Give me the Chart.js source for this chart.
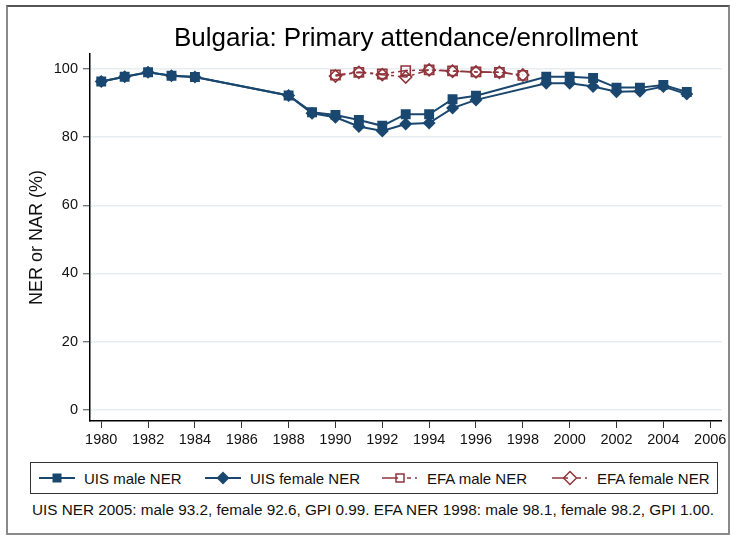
<!DOCTYPE html>
<html>
<head>
<meta charset="utf-8">
<script src="https://cdn.jsdelivr.net/npm/chart.js@4/dist/chart.umd.min.js"></script>
<style>
  body { margin: 0; background: #fff; font-family: "Liberation Sans", Arial, sans-serif; }
  #wrap { position: relative; width: 730px; height: 536px; overflow: hidden; }
  #frame { position: absolute; left: 6px; top: 5px; width: 720px; height: 526px;
           border: 2px solid #8a8a8a; border-top-color: #555; }
  #chartBox { position: absolute; left: 0; top: 0; width: 730px; height: 455px; }
  #legend { position: absolute; left: 30px; top: 462px; width: 686px; height: 30px;
            border: 1px solid #333; }
  .item { position: absolute; top: 0; height: 30px; display: flex; align-items: center;
          font-size: 15px; color: #111; white-space: nowrap; }
  .item svg { margin-right: 9px; }
  #note { position: absolute; left: 32px; top: 501px; font-size: 15.3px; color: #111; white-space: nowrap; }
</style>
</head>
<body>
<div id="wrap">
  <div id="frame"></div>
  <div id="chartBox"><canvas id="chart" width="730" height="455"></canvas></div>
  <div id="legend"></div>
  <div id="note">UIS NER 2005: male 93.2, female 92.6, GPI 0.99. EFA NER 1998: male 98.1, female 98.2, GPI 1.00.</div>
</div>
<script>
// data
const uisYears = [1980, 1981, 1982, 1983, 1984, 1988, 1989, 1990, 1991, 1992, 1993, 1994, 1995, 1996, 1999, 2000, 2001, 2002, 2003, 2004, 2005];
const uisMale = [96.3, 97.7, 99.0, 98.0, 97.6, 92.2, 87.3, 86.5, 85.0, 83.3, 86.7, 86.7, 91.1, 92.1, 97.7, 97.7, 97.3, 94.5, 94.5, 95.3, 93.2];
const uisFemale = [96.3, 97.7, 99.0, 98.0, 97.6, 92.2, 87.0, 85.8, 83.1, 81.8, 83.8, 84.1, 88.5, 90.9, 95.8, 95.8, 94.8, 93.3, 93.4, 94.8, 92.6];

const efaYears = [1990, 1991, 1992, 1993, 1994, 1995, 1996, 1997, 1998];
const efaMale = [98.2, 99.0, 98.5, 99.5, 99.7, 99.4, 99.1, 99.0, 98.1];
const efaFemale = [97.9, 99.0, 98.3, 97.6, 99.7, 99.3, 99.1, 99.0, 98.2];

const xTicks = [1980, 1982, 1984, 1986, 1988, 1990, 1992, 1994, 1996, 1998, 2000, 2002, 2004, 2006];
const yTicks = [0, 20, 40, 60, 80, 100];

const seriesNames = ['UIS male NER', 'UIS female NER', 'EFA male NER', 'EFA female NER'];

const navy = '#1a476f';
const maroon = '#90353b';
const efaDash = [10, 4, 3, 4];
const fontFam = '"Liberation Sans", Arial, sans-serif';

const pts = (xs, ys) => xs.map((x, i) => ({ x: x, y: ys[i] }));

new Chart(document.getElementById('chart').getContext('2d'), {
    type: 'line',
    data: {
        datasets: [
            {
                label: seriesNames[0],
                data: pts(uisYears, uisMale),
                borderColor: navy, backgroundColor: navy, borderWidth: 2,
                pointStyle: 'rect', pointRadius: 7, pointBorderWidth: 0
            },
            {
                label: seriesNames[1],
                data: pts(uisYears, uisFemale),
                borderColor: navy, backgroundColor: navy, borderWidth: 2,
                pointStyle: 'rectRot', pointRadius: 6.5, pointBorderWidth: 0
            },
            {
                label: seriesNames[2],
                data: pts(efaYears, efaMale),
                borderColor: maroon, backgroundColor: 'rgba(0,0,0,0)', borderWidth: 1.5,
                borderDash: efaDash,
                pointStyle: 'rect', pointRadius: 6.5, pointBorderWidth: 1.6, pointBorderColor: maroon
            },
            {
                label: seriesNames[3],
                data: pts(efaYears, efaFemale),
                borderColor: maroon, backgroundColor: 'rgba(0,0,0,0)', borderWidth: 1.5,
                borderDash: efaDash,
                pointStyle: 'rectRot', pointRadius: 6, pointBorderWidth: 1.6, pointBorderColor: maroon
            }
        ]
    },
    options: {
        responsive: false,
        animation: false,
        layout: { padding: { left: 0, right: 8, top: 0, bottom: 0 } },
        plugins: {
            legend: { display: false },
            tooltip: { enabled: false },
            title: {
                display: true,
                text: 'Bulgaria: Primary attendance/enrollment',
                fullSize: false,
                color: '#000',
                font: { family: fontFam, size: 26, weight: 'normal' },
                padding: { top: 23, bottom: 0 }
            }
        },
        scales: {
            x: {
                type: 'linear',
                min: 1979.52,
                max: 2006.5,
                afterBuildTicks: scale => { scale.ticks = xTicks.map(v => ({ value: v })); },
                afterFit: scale => { scale.height = 34; },
                grid: { drawOnChartArea: false, tickLength: 7, tickColor: '#333', tickWidth: 1 },
                border: { color: '#000', width: 1.5 },
                ticks: {
                    autoSkip: false, maxRotation: 0, padding: 3, color: '#111',
                    font: { family: fontFam, size: 14.5 },
                    callback: v => String(v)
                }
            },
            y: {
                min: -3.25,
                max: 104.3,
                afterBuildTicks: scale => { scale.ticks = yTicks.map(v => ({ value: v })); },
                afterFit: scale => { scale.width = 90; },
                grid: { color: '#e6eef1', lineWidth: 1.5, tickLength: 7, tickColor: '#444', tickWidth: 1 },
                border: { color: '#000', width: 1.5 },
                ticks: {
                    padding: 5, color: '#111',
                    font: { family: fontFam, size: 14.5 }
                },
                title: {
                    display: true,
                    text: 'NER or NAR (%)',
                    color: '#111',
                    font: { family: fontFam, size: 18 },
                    padding: { top: 26, bottom: 0 }
                }
            }
        }
    }
});

// legend built as html, with small svg keys in Stata style
const legendPos = [38, 204, 381, 551];
const legendColors = [navy, navy, maroon, maroon];
const legendShapes = ['square', 'diamond', 'square', 'diamond'];
const legendFilled = [true, true, false, false];

const legend = document.getElementById('legend');
seriesNames.forEach((name, i) => {
    const c = legendColors[i];
    const fill = legendFilled[i] ? c : 'none';
    const dashed = !legendFilled[i];
    let line = dashed
        ? `<line x1="0" y1="8" x2="16" y2="8" stroke="${c}" stroke-width="1.5"/>
           <line x1="25" y1="8" x2="29" y2="8" stroke="${c}" stroke-width="1.5"/>
           <line x1="33" y1="8" x2="35" y2="8" stroke="${c}" stroke-width="1.5"/>`
        : `<line x1="0" y1="8" x2="36" y2="8" stroke="${c}" stroke-width="2"/>`;
    let marker = legendShapes[i] === 'square'
        ? `<rect x="${legendFilled[i] ? 13.5 : 14}" y="${legendFilled[i] ? 3.5 : 4}" width="${legendFilled[i] ? 9 : 8}" height="${legendFilled[i] ? 9 : 8}" fill="${fill}" stroke="${c}" stroke-width="${legendFilled[i] ? 0 : 1.5}"/>`
        : `<polygon points="18,1.5 24.5,8 18,14.5 11.5,8" fill="${fill}" stroke="${c}" stroke-width="${legendFilled[i] ? 0 : 1.5}"/>`;
    const div = document.createElement('div');
    div.className = 'item';
    div.style.left = (legendPos[i] - 30) + 'px';
    div.innerHTML = `<svg width="36" height="16">${line}${marker}</svg><span>${name}</span>`;
    legend.appendChild(div);
});
</script>
</body>
</html>
